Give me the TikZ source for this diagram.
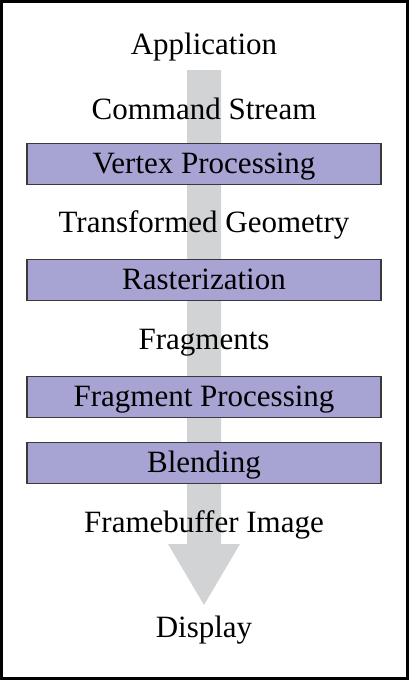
\documentclass[tikz,border=0pt]{standalone}
\usepackage{xcolor}
\usepackage{fontspec}
\setmainfont{Liberation Serif}
\usepackage{tikz}
\usetikzlibrary{calc}
\usetikzlibrary{positioning}
\definecolor{stagefill}{HTML}{A7A3D3}
\definecolor{flowgray}{HTML}{D1D3D4}
\definecolor{stageline}{HTML}{3A3A3A}

\begin{document}
\begin{tikzpicture}[x=1pt,y=1pt,semithick]
 				 \tikzstyle{lbl}=[anchor=base, inner sep=0pt, font=\fontsize{31}{37}\selectfont]
 				 \tikzstyle{stage}=[draw=stageline, line width=1.5pt, fill=stagefill, minimum width=354pt, minimum height=41pt, text height=23pt, text depth=5pt, inner sep=0pt, font=\fontsize{31}{37}\selectfont]
 				 \useasboundingbox (0,0) rectangle (409,-680);
 				 \draw[line width=3pt] (1.5,-1.5) rectangle (407.5,-678.5);
 				 % the flow arrow behind everything
 				 \fill[flowgray] (187,-70) -- (221,-70) -- (221,-544) -- (240,-544) -- (204,-605) -- (168,-544) -- (187,-544) -- cycle;
 					 \node[lbl]   (app)  at (204,-54)  {Application};
 					 \node[lbl]   (cmd)  at (204,-119) {Command Stream};
 					 \node[stage] (vtx)  at (204,-164) {Vertex Processing};
 					 \node[lbl]   (geo)  at (204,-232) {Transformed Geometry};
 					 \node[stage] (rast) at (204,-280) {Rasterization};
 					 \node[lbl]   (frag) at (204,-349) {Fragments};
 					 \node[stage] (fp)   at (204,-397) {Fragment Processing};
 					 \node[stage] (blnd) at (204,-463) {Blending};
 					 \node[lbl]   (fb)   at (204,-532) {Framebuffer Image};
 					 \node[lbl]   (disp) at (204,-637) {Display};
				\end{tikzpicture}
\end{document}
